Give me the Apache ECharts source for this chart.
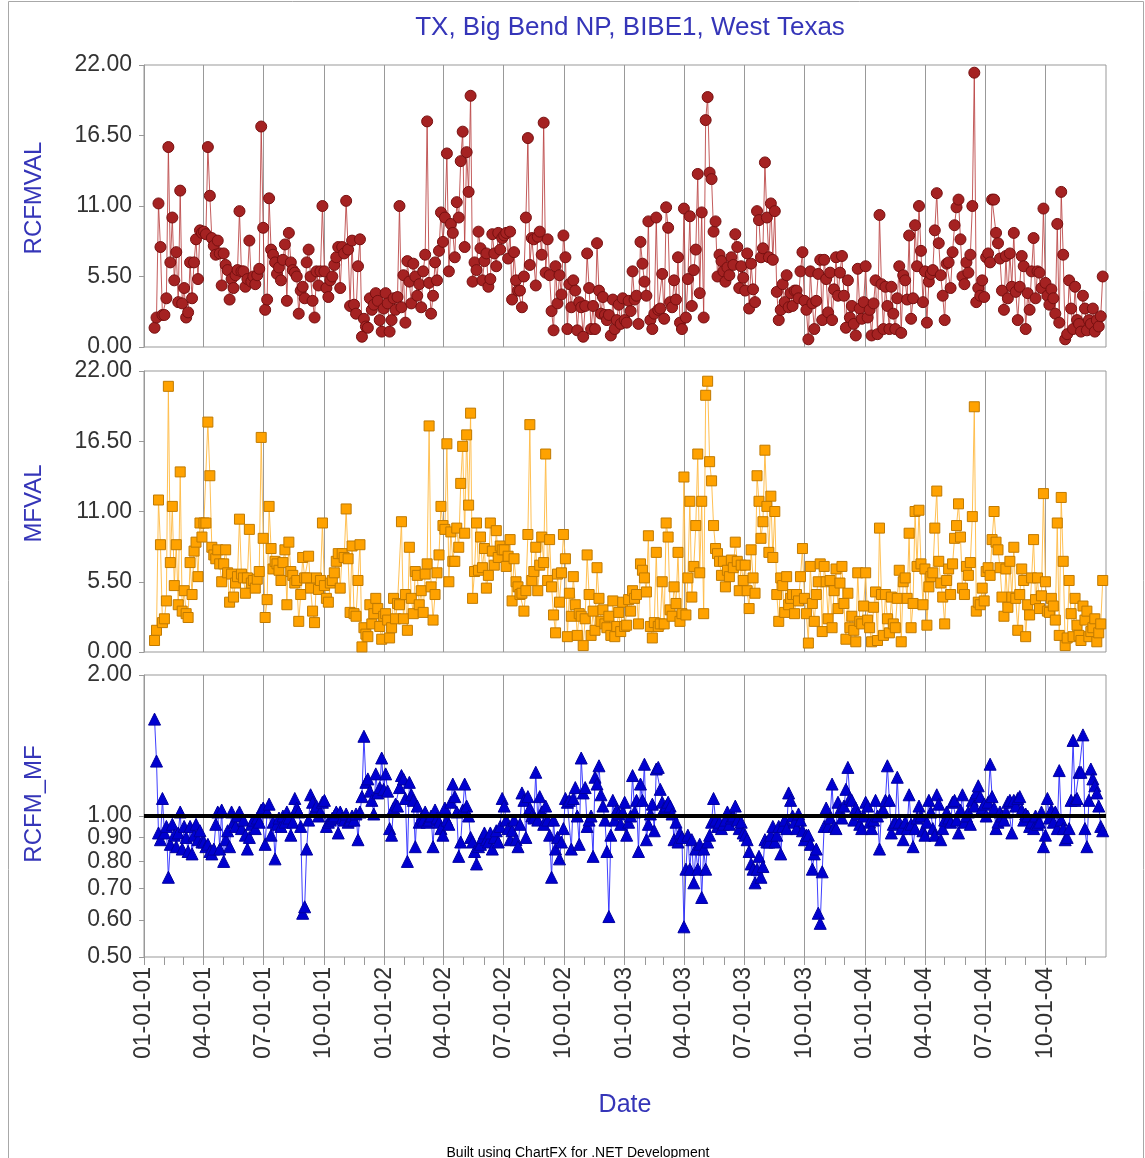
<!DOCTYPE html>
<html><head><meta charset="utf-8">
<script src="https://cdn.jsdelivr.net/npm/echarts@6/dist/echarts.min.js"></script>
<style>html,body{margin:0;padding:0;background:#fff}#chart{width:1145px;height:1158px}</style>
</head><body><div id="chart"></div>
<script>
const chartTitle = 'TX, Big Bend NP, BIBE1, West Texas';
const footerText = 'Built using ChartFX for .NET Development';
const seriesNames = ['RCFMVAL', 'MFVAL', 'RCFM_MF'];
const xAxisName = 'Date';
const firstSample = [2001, 0, 17];
const sampleStepDays = 3;
const firstYear = 2001;
const axisStart = [2001, 0, 1];
const axisEnd = [2005, 0, 1];
const quarterTickLabels = ['01-01-01','04-01-01','07-01-01','10-01-01','01-01-02','04-01-02','07-01-02','10-01-02',
  '01-01-03','04-01-03','07-01-03','10-01-03','01-01-04','04-01-04','07-01-04','10-01-04'];
const massTicks = [0, 5.5, 11, 16.5, 22];
const ratioTicks = [0.5, 0.6, 0.7, 0.8, 0.9, 1.0, 2.0];
const ratioReference = 1.0;

// values per year, one inner array per quarter (3-day samples)
const rcfm2001 = [
 [1.5,2.3,11.2,7.8,2.5,2.5,3.8,15.6,6.6,10.1,5.2,7.4,3.5,12.2,3.4,4.6,2.3,2.7,6.6,3.8,6.6,8.4,5.3,9.1,8.9],
 [9.0,8.8,15.6,11.8,8.5,7.9,7.2,8.3,7.3,4.8,7.3,6.4,6.0,3.7,5.3,4.6,5.6,6.0,10.6,5.9,5.9,4.7,5.3,8.3,5.1,5.5,4.9,5.6,6.1,17.2],
 [9.3,2.9,3.7,11.6,7.6,7.2,6.6,5.7,6.2,5.2,6.8,8.0,3.6,8.9,6.6,6.0,5.8,5.5,2.6,4.4,4.7,3.8,6.6,7.6,5.5,3.6,2.3,5.9,4.8,5.9,11.0],
 [5.9,4.6,3.9,5.2,5.5,6.4,7.0,7.8,4.6,7.8,7.3,11.4,7.6,3.2,8.3,3.3,2.6,6.3,8.4,0.8,2.2,1.6,1.5,3.8,2.9,3.3,4.2,3.6,2.1,1.2,3.0]
];
const rcfm2002 = [
 [4.2,3.4,1.2,2.1,3.8,2.9,3.9,11.0,3.1,5.6,1.9,6.7,5.1,3.4,6.5,5.5,4.0,4.9,3.1,5.9,7.2,17.6,5.0,2.6,4.0,6.6,5.2,7.5,10.5,8.2],
 [10.1,15.1,5.9,9.6,8.9,7.0,11.3,10.1,14.5,16.8,7.8,15.2,12.1,19.6,5.1,6.6,6.0,9.0,7.7,5.2,6.7,7.3,4.7,5.3,8.8,7.3,6.3,8.9,7.6,8.5],
 [8.7,8.9,6.9,9.0,3.7,7.4,5.2,4.4,4.4,3.1,5.5,10.1,16.3,6.4,8.5,8.4,4.8,8.6,9.0,7.2,17.5,5.8,8.4,5.6,2.8,1.3,6.3,3.4,5.6,4.1,8.7],
 [7.0,1.4,4.9,3.1,5.2,4.4,1.3,3.5,3.1,0.8,3.2,7.3,4.6,1.4,3.2,1.4,8.1,4.4,2.6,3.9,2.5,2.1,2.5,0.9,3.7,1.4,2.1,3.3,1.8,3.8]
];
const rcfm2003 = [
 [2.1,1.9,3.6,2.8,5.9,3.7,4.0,1.8,8.2,6.5,5.1,4.0,9.8,2.1,1.4,2.6,10.1,2.9,3.0,5.7,2.2,10.9,9.3,3.5,3.1,5.2,3.7,7.0,1.9,1.4],
 [10.8,2.3,5.3,10.2,3.2,6.0,7.6,13.5,4.2,10.5,2.3,17.7,19.5,13.6,13.1,9.0,9.8,5.5,7.2,6.7,5.9,5.1,6.2,5.6,7.0,6.4,8.8,7.8,4.6,6.3,5.4],
 [4.4,7.3,3.0,6.5,4.5,3.5,10.6,9.9,7.0,7.7,14.4,10.1,7.0,11.2,6.8,10.6,4.3,2.1,2.9,4.9,3.5,5.6,3.1,4.2,3.2,4.4,4.4,3.8,5.9,7.4],
 [3.6,2.9,0.6,5.9,3.4,1.4,3.6,5.7,6.8,2.1,6.8,5.3,2.7,5.8,2.1,4.5,7.0,4.0,5.8,7.1,4.0,1.5,5.2,2.3,3.2,1.8,0.9,6.1,3.0,2.2,3.5]
];
const rcfm2004 = [
 [6.3,2.3,2.9,0.9,3.4,5.2,1.0,10.3,4.9,1.4,4.7,3.2,1.4,4.7,2.6,1.4,3.8,6.3,1.1,5.6,5.2,3.7,8.7,2.2,3.8,9.5,6.3,11.0,7.5,3.5],
 [5.9,1.9,5.1,5.7,6.0,9.1,12.0,8.1,5.6,4.0,2.1,6.5,6.6,4.6,7.4,9.5,10.9,11.5,8.4,5.5,4.9,6.6,5.8,7.2,11.0,21.4,3.5,4.6,4.0,5.2,3.9],
 [7.0,7.3,6.6,11.5,11.5,8.9,8.1,6.9,4.4,2.9,7.1,3.8,7.3,4.7,8.9,4.3,2.1,4.7,7.1,6.3,1.4,4.2,2.9,5.9,8.5,3.8,5.9,5.8,4.6,10.8],
 [5.0,4.0,3.3,4.5,3.8,2.6,9.6,1.9,12.1,7.2,0.6,1.0,5.2,3.0,1.4,4.7,2.1,1.8,1.2,4.0,3.0,1.3,2.1,1.8,3.0,1.2,2.1,1.6,2.4,5.5]
];
const mf2001 = [
 [0.9,1.7,11.9,8.4,2.3,2.6,4.0,20.8,7.0,11.4,5.2,8.4,3.7,14.1,3.2,4.8,3.0,2.7,7.0,4.5,7.9,8.6,5.9,10.1,9.0],
 [10.1,10.1,18.0,13.8,8.2,7.6,7.3,8.0,6.9,5.5,6.9,8.0,6.2,3.9,6.1,4.3,5.4,5.9,10.4,6.1,5.8,4.6,5.8,9.6,5.4,5.6,5.0,5.7,6.3,16.8],
 [8.9,2.7,4.1,11.4,8.1,6.5,7.1,6.9,6.4,5.6,7.0,8.0,3.7,8.6,6.3,6.0,5.4,5.6,2.4,4.5,7.4,5.8,5.8,7.5,5.0,3.2,2.3,5.8,4.9,5.6,10.1],
 [5.2,4.2,3.9,5.4,5.6,6.2,7.1,7.7,5.0,7.7,7.4,11.2,7.3,3.1,8.3,3.0,2.8,5.6,8.4,0.4,1.9,1.4,1.2,3.7,2.2,3.0,4.2,3.4,2.0,1.0,2.8]
];
const mf2002 = [
 [3.0,2.5,1.1,1.9,4.2,2.6,3.8,3.7,10.2,2.6,4.5,1.7,8.2,4.2,3.0,6.3,6.0,3.7,4.8,3.1,6.1,6.9,17.7,5.1,2.5,4.5,6.2,7.6,11.4,9.9],
 [9.6,16.3,5.5,9.4,7.1,7.1,9.7,8.2,13.2,16.1,9.3,17.0,11.5,18.7,4.2,6.3,10.1,6.4,9.0,6.6,8.1,5.0,6.0,10.1,7.9,6.8,9.5,7.4,8.3,8.0],
 [8.0,6.7,7.5,8.8,4.0,7.3,5.5,5.1,4.5,4.6,3.2,4.8,9.2,17.8,5.6,6.3,8.2,4.8,6.8,9.0,7.0,15.5,5.6,8.8,5.1,2.9,1.5,6.1,3.9,6.2,9.2],
 [7.3,1.2,4.6,2.8,5.9,3.7,1.3,3.0,2.8,0.5,2.6,7.6,4.5,1.3,3.2,1.7,6.6,4.2,2.4,3.3,2.2,1.9,2.8,1.3,4.0,1.2,2.0,3.1,1.6,3.9]
];
const mf2003 = [
 [2.0,2.1,4.1,3.2,4.8,4.2,4.5,2.2,6.9,6.4,5.8,4.7,9.1,2.0,1.1,2.3,7.8,2.0,2.2,5.5,2.2,10.1,9.0,3.3,2.8,5.1,3.8,7.8,2.4,3.0],
 [13.7,2.9,5.8,11.8,4.3,6.7,9.9,15.5,6.2,11.8,3.0,20.1,21.2,14.9,13.4,9.9,8.1,7.7,7.1,6.0,7.1,5.1,6.4,5.9,7.2,6.6,8.6,7.1,4.8,6.8,5.6],
 [6.8,4.8,3.4,8.0,5.8,4.6,13.8,11.8,8.9,10.2,15.8,11.4,7.8,12.2,7.4,11.0,4.5,2.4,5.8,5.2,3.1,5.9,3.7,4.2,4.5,3.0,4.5,4.0,5.9,8.1],
 [4.2,3.0,0.7,6.7,3.8,2.4,4.5,5.5,6.9,1.6,6.7,5.5,2.6,5.6,1.9,4.8,6.5,3.4,5.4,6.7,3.8,1.0,4.6,1.9,2.8,1.7,0.8,6.2,2.4,2.2,3.6]
];
const mf2004 = [
 [6.2,2.5,1.9,0.8,3.5,4.7,0.9,9.7,4.5,1.3,4.5,2.6,1.5,4.3,2.2,1.9,4.2,6.4,0.8,5.5,5.8,4.2,9.3,1.9,3.8,11.0,6.7,11.1,6.9,3.7],
 [6.5,2.1,5.1,5.9,6.2,9.7,12.6,7.1,5.4,4.3,2.2,5.6,6.5,4.5,6.9,8.9,9.9,11.6,9.0,5.0,4.5,6.7,6.0,7.0,10.6,19.2,3.2,3.9,3.7,5.0,4.0],
 [6.3,6.6,6.0,8.8,11.0,8.6,8.0,6.6,4.3,2.8,6.5,3.5,7.1,4.3,8.2,4.2,1.7,4.5,6.5,5.6,1.2,3.7,2.9,5.8,8.8,4.1,5.8,3.4,4.4,12.4],
 [5.5,3.2,3.1,4.2,3.6,2.5,10.1,1.3,12.1,7.1,0.5,1.1,5.6,3.0,1.2,4.2,2.1,1.3,0.9,3.6,2.5,3.2,1.2,1.6,1.9,2.6,0.8,1.5,2.2,5.6]
];
const ratio2001 = [
 [1.61,1.31,0.92,0.89,1.09,0.92,0.95,0.74,0.87,0.96,0.91,0.86,0.92,1.02,0.85,0.95,0.90,0.84,0.95,0.83,0.91,0.96,0.89,0.93,0.88],
 [0.88,0.86,0.87,0.84,0.83,0.85,0.96,1.02,0.85,1.03,0.80,0.89,0.93,0.86,1.02,0.97,0.95,1.00,1.02,0.94,0.98,0.91,0.85,0.90,0.96,0.98,0.94,0.99,0.97,1.03],
 [1.04,0.87,1.02,1.06,0.91,0.97,0.81,0.96,0.99,0.95,1.00,0.97,1.02,0.99,0.91,0.97,1.09,1.04,1.02,0.95,0.62,0.64,0.85,0.98,1.11,1.07,1.03,1.05,1.00,1.02,1.07],
 [1.08,0.95,0.97,0.98,0.99,1.00,1.02,0.92,1.02,0.99,0.98,1.01,0.97,0.98,1.00,0.98,1.01,0.89,1.02,1.10,1.48,1.18,1.20,1.13,1.08,1.01,1.23,1.12,1.15,1.33,1.14]
];
const ratio2002 = [
 [1.23,1.13,0.94,0.91,1.04,1.06,1.05,1.15,1.22,1.20,1.09,0.80,1.18,1.11,1.08,0.86,1.05,0.97,0.99,0.98,1.02,0.97,0.98,1.00,0.86,1.03,0.99,0.97,0.94,0.91],
 [1.04,0.98,0.96,1.07,1.17,1.10,1.02,0.82,0.88,1.03,1.17,1.05,1.00,0.90,0.88,0.84,0.79,0.86,0.87,0.90,0.92,0.89,0.88,0.92,0.85,0.90,0.93,0.88,0.95,1.09],
 [1.05,0.98,0.94,0.89,0.93,0.98,0.89,0.86,0.96,1.12,1.08,0.90,1.10,1.04,1.00,0.99,1.24,0.98,1.10,1.02,0.96,1.05,0.98,0.91,0.74,0.98,0.85,0.90,0.81,0.88,0.94],
 [1.09,1.07,1.08,0.85,1.09,1.15,1.00,0.87,1.33,1.12,1.15,0.95,0.98,1.00,0.82,1.21,1.17,1.28,1.11,1.05,0.98,0.84,0.61,0.91,1.08,0.98,1.03,1.01,0.96,1.02]
];
const ratio2003 = [
 [1.07,0.91,0.97,1.00,1.22,1.02,1.08,0.84,1.17,1.08,1.29,0.89,0.96,1.01,1.06,0.93,1.26,1.27,1.14,1.07,1.04,1.05,1.07,1.05,1.01,0.89,0.97,0.88,0.92,0.90],
 [0.58,0.77,0.91,0.77,0.89,0.72,0.85,0.77,0.87,0.67,0.85,0.77,0.88,0.91,0.97,1.09,0.98,0.95,0.97,0.94,0.96,0.98,1.02,0.96,0.99,1.00,1.05,0.98,0.94,0.97,0.92],
 [0.91,0.89,0.84,0.79,0.77,0.72,0.77,0.82,0.74,0.78,0.89,0.88,0.88,0.91,0.95,0.88,0.91,0.95,0.83,0.95,0.98,0.94,1.12,1.08,1.00,0.97,0.94,1.01,0.98,0.93],
 [0.89,0.91,0.91,0.87,0.77,0.83,0.85,0.62,0.59,0.76,0.95,1.04,0.95,0.99,1.17,0.95,0.94,1.07,1.03,0.99,1.05,1.14,1.27,1.09,1.08,0.98,1.04,1.01,0.96,0.94,1.00]
];
const ratio2004 = [
 [1.07,1.05,0.97,0.94,0.98,1.08,1.00,0.85,1.02,1.03,1.08,1.28,1.08,0.92,0.96,0.97,1.21,0.97,0.94,0.89,0.97,0.94,1.11,0.96,0.86,0.94,0.99,1.05,1.00,0.93],
 [0.91,0.97,1.08,1.02,0.94,0.91,1.11,1.06,0.89,0.94,0.98,1.02,0.99,0.97,1.07,1.08,0.98,0.92,1.03,1.11,0.97,1.00,1.02,0.96,1.08,1.05,1.12,1.16,1.10,1.04,1.06],
 [1.00,1.07,1.29,1.10,1.04,0.94,0.97,1.02,1.00,0.98,1.02,1.07,1.08,0.92,1.08,1.05,1.09,1.10,1.03,0.98,1.01,1.00,0.95,0.97,0.94,1.00,0.96,0.97,1.02,0.86],
 [0.91,1.09,0.99,1.03,0.97,1.02,0.94,1.25,0.98,0.94,0.89,0.90,0.94,1.08,1.45,1.08,1.09,1.24,1.24,1.49,0.94,0.86,1.08,1.26,1.20,1.16,1.12,1.05,0.95,0.93]
];

// ---------- build ----------
const DAY = 86400000;
const firstTs = new Date(firstSample[0], firstSample[1], firstSample[2]).getTime();
function sampleTs(k) { return new Date(firstSample[0], firstSample[1], firstSample[2] + sampleStepDays * k).getTime(); }
function buildSeries(years) {
  const out = [];
  years.forEach(function (yearArr, yi) {
    yearArr.forEach(function (qArr, qi) {
      const qStart = new Date(firstYear + yi, qi * 3, 1).getTime();
      const days = Math.round((qStart - firstTs) / DAY);
      const k0 = Math.max(0, Math.ceil(days / sampleStepDays));
      qArr.forEach(function (v, i) { out.push([sampleTs(k0 + i), v]); });
    });
  });
  return out;
}
const rcfmData = buildSeries([rcfm2001, rcfm2002, rcfm2003, rcfm2004]);
const mfData = buildSeries([mf2001, mf2002, mf2003, mf2004]);
const ratioData = buildSeries([ratio2001, ratio2002, ratio2003, ratio2004]);

function parseTick(s) { return new Date(2000 + (+s.slice(6, 8)), (+s.slice(0, 2)) - 1, +s.slice(3, 5)).getTime(); }
const quarterTs = quarterTickLabels.map(parseTick);
const minTs = new Date(axisStart[0], axisStart[1], axisStart[2]).getTime();
const maxTs = new Date(axisEnd[0], axisEnd[1], axisEnd[2]).getTime();
const monthTs = [];
for (let y = axisStart[0]; y < axisEnd[0]; y++) for (let m = 0; m < 12; m++) {
  if (m % 3 !== 0) monthTs.push(new Date(y, m, 1).getTime());
}
function pad(n) { return (n < 10 ? '0' : '') + n; }
function fmtDate(v) { const d = new Date(v); return pad(d.getMonth() + 1) + '-' + pad(d.getDate()) + '-' + pad(d.getFullYear() % 100); }

const FONT = '"Liberation Sans", Arial, sans-serif';
const BLUE = '#3535b8';
const GRAY = '#999999';
const LABEL = '#333333';
const gridLeft = 144, gridWidth = 962;

function xAxisFor(gi, bottom) {
  const ax = {
    type: 'value', gridIndex: gi, min: minTs, max: maxTs, position: 'bottom', scale: true,
    axisLine: { show: false },
    axisTick: { show: bottom, customValues: quarterTs, length: 8, lineStyle: { color: GRAY } },
    axisLabel: { show: false },
    splitLine: { show: true, lineStyle: { color: GRAY, width: 1 } },
    axisPointer: { show: false }
  };
  if (bottom) {
    ax.axisLabel = { show: true, customValues: quarterTs, rotate: 90, margin: 10, formatter: fmtDate,
      fontSize: 23, color: LABEL, fontFamily: FONT };
    ax.name = xAxisName; ax.nameLocation = 'middle'; ax.nameGap = 136;
    ax.nameTextStyle = { fontSize: 25, color: BLUE, fontFamily: FONT };
  }
  return ax;
}
function massAxis(gi, name) {
  return {
    type: 'value', gridIndex: gi, min: massTicks[0], max: massTicks[massTicks.length - 1],
    interval: massTicks[1] - massTicks[0],
    axisLine: { show: true, lineStyle: { color: GRAY } },
    axisTick: { show: true, length: 5, lineStyle: { color: GRAY } },
    axisLabel: { formatter: function (v) { return v.toFixed(2); }, fontSize: 23, color: LABEL, fontFamily: FONT, margin: 12 },
    splitLine: { show: false },
    name: name, nameLocation: 'middle', nameGap: 98,
    nameTextStyle: { fontSize: 24, color: BLUE, fontFamily: FONT, padding: [0, 0, 0, 16] }
  };
}

const option = {
  animation: false,
  backgroundColor: '#ffffff',
  title: [
    { text: chartTitle, left: 625, top: 10, textAlign: 'center',
      textStyle: { fontSize: 26, fontWeight: 'normal', color: BLUE, fontFamily: FONT } },
    { text: footerText, left: 573, top: 1141, textAlign: 'center',
      textStyle: { fontSize: 14, fontWeight: 'normal', color: '#000', fontFamily: FONT } }
  ],
  graphic: [
    { type: 'rect', silent: true, shape: { x: 8.5, y: 1.5, width: 1135, height: 1200 },
      style: { fill: 'none', stroke: '#a8a8a8', lineWidth: 1 } }
  ],
  grid: [
    { left: gridLeft, top: 65, width: gridWidth, height: 282, show: true, borderColor: GRAY, borderWidth: 1 },
    { left: gridLeft, top: 371, width: gridWidth, height: 281, show: true, borderColor: GRAY, borderWidth: 1 },
    { left: gridLeft, top: 675, width: gridWidth, height: 282, show: true, borderColor: GRAY, borderWidth: 1 }
  ],
  xAxis: [
    xAxisFor(0, false), xAxisFor(1, false), xAxisFor(2, true),
    { type: 'value', gridIndex: 2, min: minTs, max: maxTs, position: 'bottom', scale: true,
      axisLine: { show: false }, axisLabel: { show: false }, splitLine: { show: false },
      axisTick: { show: true, customValues: monthTs, length: 8, lineStyle: { color: GRAY } } }
  ],
  yAxis: [
    massAxis(0, seriesNames[0]),
    massAxis(1, seriesNames[1]),
    { type: 'log', gridIndex: 2, min: ratioTicks[0], max: ratioTicks[ratioTicks.length - 1], logBase: 2,
      axisLine: { show: true, lineStyle: { color: GRAY } },
      axisTick: { show: true, length: 5, customValues: ratioTicks, lineStyle: { color: GRAY } },
      axisLabel: { customValues: ratioTicks, formatter: function (v) { return (+v).toFixed(2); },
        fontSize: 23, color: LABEL, fontFamily: FONT, margin: 12 },
      splitLine: { show: false }, minorTick: { show: false },
      name: seriesNames[2], nameLocation: 'middle', nameGap: 98,
      nameTextStyle: { fontSize: 24, color: BLUE, fontFamily: FONT, padding: [0, 0, 0, 24] } }
  ],
  series: [
    { name: seriesNames[0], type: 'line', xAxisIndex: 0, yAxisIndex: 0, data: rcfmData,
      symbol: 'circle', symbolSize: 11, showAllSymbol: true,
      itemStyle: { color: '#a52222', borderColor: '#771010', borderWidth: 1 },
      lineStyle: { color: '#b84040', width: 1, opacity: 0.85 }, emphasis: { disabled: true } },
    { name: seriesNames[1], type: 'line', xAxisIndex: 1, yAxisIndex: 1, data: mfData,
      symbol: 'rect', symbolSize: 10, showAllSymbol: true,
      itemStyle: { color: '#ffa200', borderColor: '#c07a00', borderWidth: 1 },
      lineStyle: { color: '#ffb940', width: 1, opacity: 0.9 }, emphasis: { disabled: true } },
    { name: seriesNames[2], type: 'line', xAxisIndex: 2, yAxisIndex: 2, data: ratioData,
      symbol: 'triangle', symbolSize: 12, showAllSymbol: true,
      itemStyle: { color: '#0000d0', borderColor: '#0000a0', borderWidth: 1 },
      lineStyle: { color: '#2a2aff', width: 1, opacity: 0.9 }, emphasis: { disabled: true },
      markLine: { silent: true, symbol: 'none', animation: false, label: { show: false },
        lineStyle: { color: '#000', width: 4, type: 'solid' }, emphasis: { disabled: true },
        data: [{ yAxis: ratioReference }] } }
  ]
};
const chart = echarts.init(document.getElementById('chart'), null, { renderer: 'canvas' });
chart.setOption(option);
</script>
</body></html>
